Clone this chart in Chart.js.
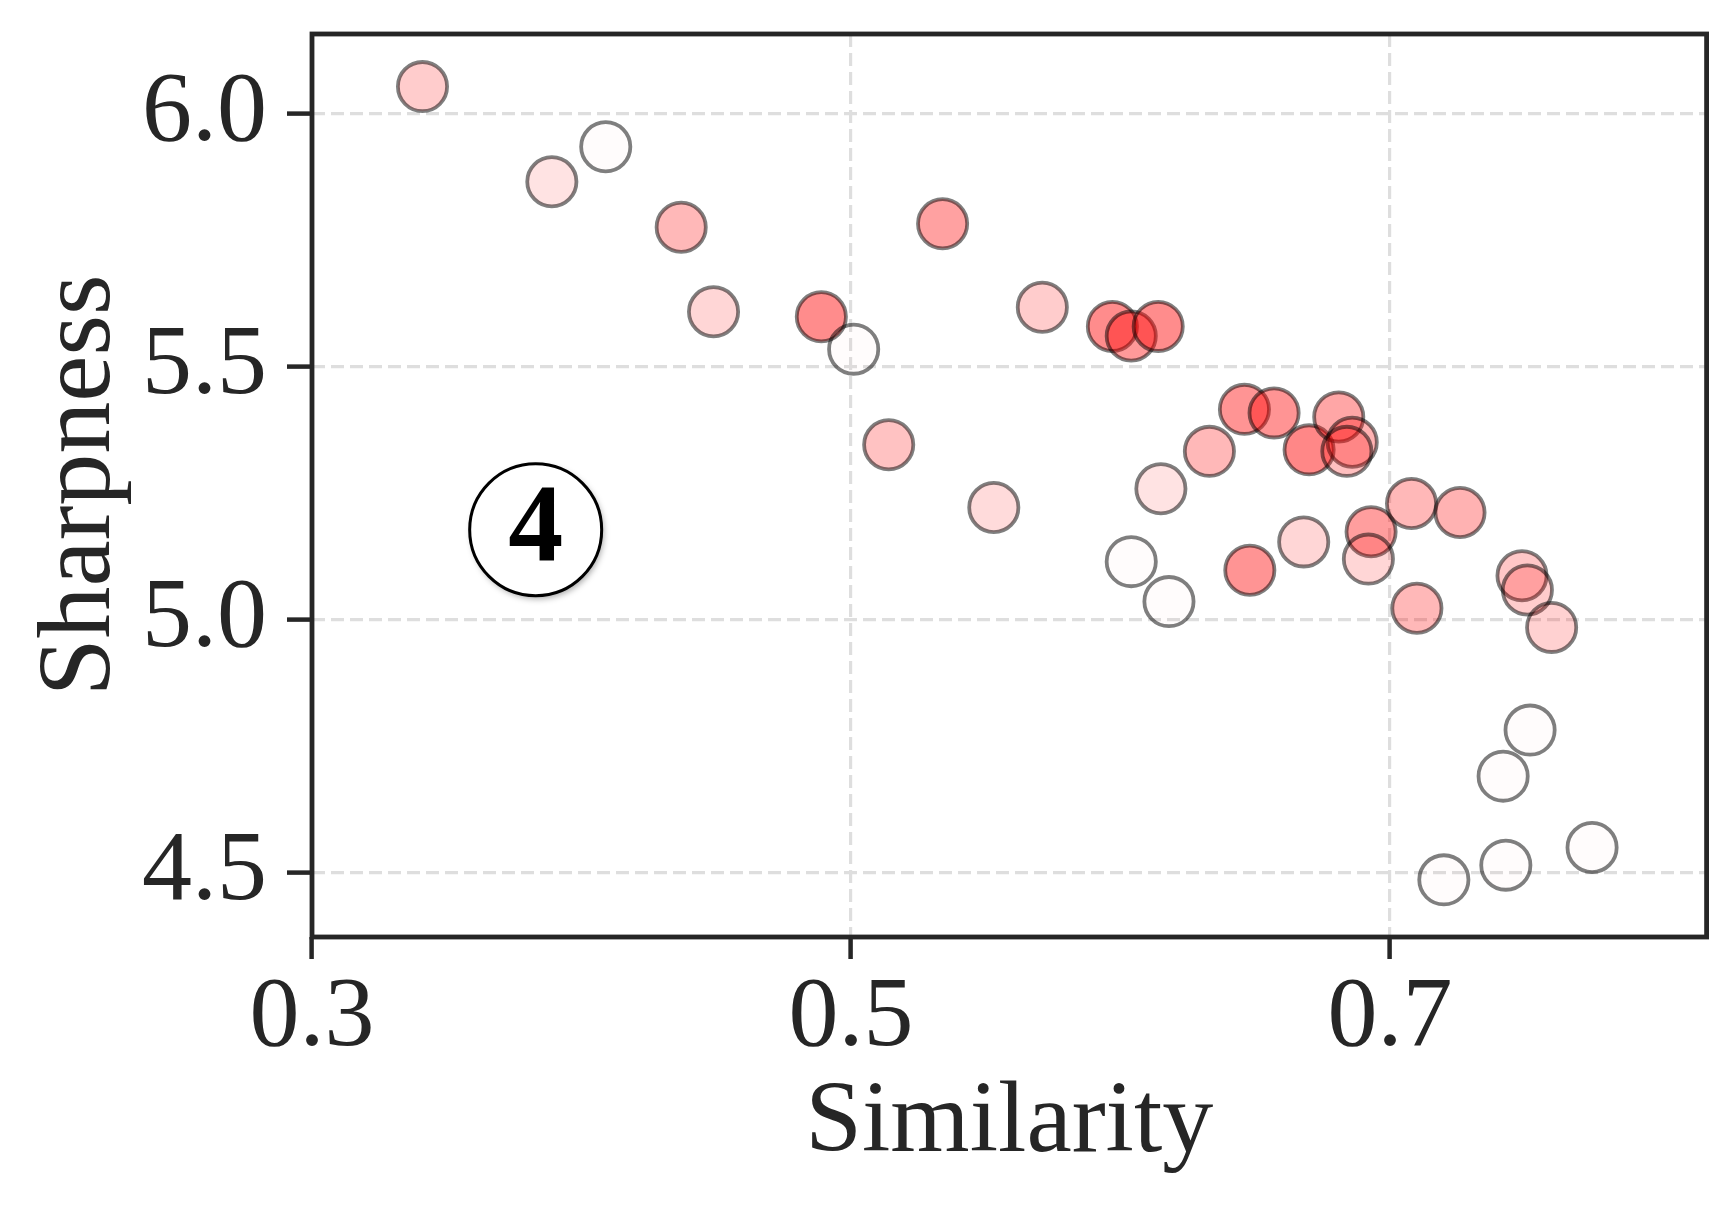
<!DOCTYPE html>
<html>
<head>
<meta charset="utf-8">
<script src="https://cdn.jsdelivr.net/npm/chart.js@4/dist/chart.umd.min.js"></script>
<style>
  html, body { margin: 0; padding: 0; background: #fff; }
  #chart { display: block; }
</style>
</head>
<body>
<canvas id="chart" width="1735" height="1210"></canvas>
<script>
// one entry per run: similarity (x), sharpness (y), colour intensity (0..1)
const similarity = [0.341, 0.389, 0.409, 0.437, 0.449, 0.489, 0.501, 0.534, 0.514, 0.553,
                    0.571, 0.597, 0.604, 0.614, 0.615, 0.604, 0.618, 0.633, 0.646, 0.657,
                    0.670, 0.681, 0.686, 0.684, 0.648, 0.668, 0.693, 0.692, 0.708, 0.710,
                    0.726, 0.749, 0.751, 0.760, 0.752, 0.742, 0.743, 0.720, 0.775];
const sharpness = [6.054, 5.866, 5.935, 5.776, 5.609, 5.599, 5.535, 5.783, 5.346, 5.222,
                   5.618, 5.580, 5.561, 5.580, 5.259, 5.115, 5.036, 5.333, 5.416, 5.409,
                   5.336, 5.401, 5.351, 5.333, 5.098, 5.154, 5.174, 5.120, 5.230, 5.023,
                   5.212, 5.087, 5.059, 4.985, 4.782, 4.691, 4.515, 4.486, 4.550];
const intensity = [0.20, 0.11, 0.01, 0.28, 0.16, 0.45, 0.01, 0.37, 0.24, 0.14,
                   0.20, 0.45, 0.40, 0.45, 0.11, 0.01, 0.01, 0.28, 0.42, 0.42,
                   0.47, 0.35, 0.30, 0.25, 0.42, 0.16, 0.38, 0.16, 0.28, 0.28,
                   0.30, 0.22, 0.20, 0.18, 0.01, 0.01, 0.01, 0.01, 0.01];

const xTicks = [0.3, 0.5, 0.7];
const yTicks = [4.5, 5.0, 5.5, 6.0];
const xTitle = 'Similarity';
const yTitle = 'Sharpness';
const badgeText = '4';
const badgeAt = { x: 0.383, y: 5.178 };

const serif = '"Liberation Serif", "Times New Roman", serif';
const ink = '#262626';

const ctx = document.getElementById('chart').getContext('2d');

const points = similarity.map((x, i) => ({ x: x, y: sharpness[i] }));

// full box round the plot, like the matplotlib spines
const frame = {
    id: 'frame',
    afterDatasetsDraw(chart) {
        const a = chart.chartArea;
        const c = chart.ctx;
        c.save();
        c.lineWidth = 4.8;
        c.strokeStyle = ink;
        c.strokeRect(a.left, a.top, a.right - a.left, a.bottom - a.top);
        c.restore();
    }
};

// the circled panel number
const badge = {
    id: 'badge',
    afterDatasetsDraw(chart) {
        const c = chart.ctx;
        const cx = chart.scales.x.getPixelForValue(badgeAt.x);
        const cy = chart.scales.y.getPixelForValue(badgeAt.y);
        c.save();
        c.shadowColor = 'rgba(0,0,0,0.35)';
        c.shadowBlur = 6;
        c.shadowOffsetX = 2;
        c.shadowOffsetY = 3;
        c.beginPath();
        c.arc(cx, cy, 66, 0, Math.PI * 2);
        c.fillStyle = '#fff';
        c.fill();
        c.shadowColor = 'transparent';
        c.lineWidth = 3;
        c.strokeStyle = '#000';
        c.stroke();
        c.fillStyle = '#000';
        c.font = 'bold 110px ' + serif;
        c.textAlign = 'center';
        c.textBaseline = 'middle';
        c.fillText(badgeText, cx, cy + 2);
        c.restore();
    }
};

new Chart(ctx, {
    type: 'scatter',
    data: {
        datasets: [{
            data: points,
            backgroundColor: intensity.map(a => 'rgba(255,0,0,' + a + ')'),
            borderColor: 'rgba(0,0,0,0.5)',
            borderWidth: 3.8,
            pointRadius: 24.6,
            pointHoverRadius: 24.6,
            pointHoverBorderWidth: 3.8
        }]
    },
    options: {
        responsive: false,
        animation: false,
        devicePixelRatio: 1,
        layout: { padding: { top: 34, right: 28, bottom: 0, left: 0 } },
        plugins: {
            legend: { display: false },
            tooltip: { enabled: false }
        },
        scales: {
            x: {
                type: 'linear',
                min: 0.3,
                max: 0.8175,
                afterBuildTicks: s => { s.ticks = xTicks.map(v => ({ value: v })); },
                afterFit: s => { s.height = 273; s.paddingLeft = 0; s.paddingRight = 0; },
                ticks: {
                    color: ink,
                    font: { family: serif, size: 100 },
                    padding: 0,
                    maxRotation: 0,
                    autoSkip: false,
                    callback: v => v.toFixed(1)
                },
                grid: {
                    color: '#dedede',
                    lineWidth: 3.2,
                    tickColor: ink,
                    tickWidth: 4.5,
                    tickLength: 22,
                    tickBorderDash: []
                },
                border: { display: false, dash: [13, 6] },
                title: {
                    display: true,
                    text: xTitle,
                    color: ink,
                    font: { family: serif, size: 102 },
                    padding: { top: 0, bottom: 25 }
                }
            },
            y: {
                type: 'linear',
                min: 4.373,
                max: 6.158,
                afterBuildTicks: s => { s.ticks = yTicks.map(v => ({ value: v })); },
                afterFit: s => { s.width = 312; s.paddingTop = 0; s.paddingBottom = 0; },
                ticks: {
                    color: ink,
                    font: { family: serif, size: 100 },
                    padding: 20,
                    autoSkip: false,
                    callback: v => v.toFixed(1)
                },
                grid: {
                    color: '#dedede',
                    lineWidth: 3.2,
                    tickColor: ink,
                    tickWidth: 4.5,
                    tickLength: 25,
                    tickBorderDash: []
                },
                border: { display: false, dash: [13, 6] },
                title: {
                    display: true,
                    text: yTitle,
                    color: ink,
                    font: { family: serif, size: 104 },
                    padding: { top: 19, bottom: 0 }
                }
            }
        }
    },
    plugins: [frame, badge]
});
</script>
</body>
</html>
